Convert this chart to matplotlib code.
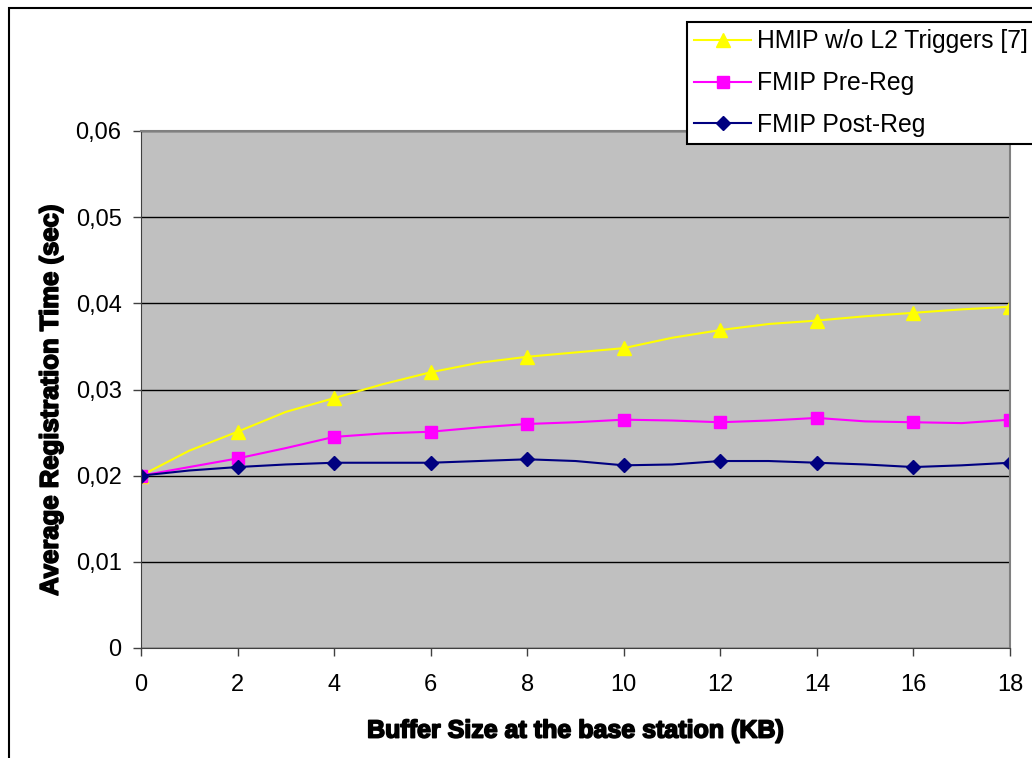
import matplotlib.pyplot as plt
import matplotlib.patheffects as pe
from matplotlib.patches import Rectangle
from matplotlib.ticker import FuncFormatter

plt.rcParams["font.family"] = ["Liberation Sans", "DejaVu Sans"]

buffer_kb = list(range(0, 19))
hmip = [0.0200, 0.0229, 0.0251, 0.0274, 0.0290, 0.0306, 0.0320, 0.0331, 0.0338,
        0.0343, 0.0348, 0.0360, 0.0369, 0.0376, 0.0380, 0.0385, 0.0389, 0.0393, 0.0396]
fmip_pre = [0.0200, 0.0210, 0.0220, 0.0232, 0.0245, 0.0249, 0.0251, 0.0256, 0.0260,
            0.0262, 0.0265, 0.0264, 0.0262, 0.0264, 0.0267, 0.0263, 0.0262, 0.0261, 0.0265]
fmip_post = [0.0200, 0.0206, 0.0210, 0.0213, 0.0215, 0.0215, 0.0215, 0.0217, 0.0219,
             0.0217, 0.0212, 0.0213, 0.0217, 0.0217, 0.0215, 0.0213, 0.0210, 0.0212, 0.0215]

fig = plt.figure(figsize=(10.32, 7.58), dpi=100)
ax = fig.add_axes([141 / 1032, 110 / 758, 869 / 1032, 517 / 758])
ax.set_facecolor("#c0c0c0")

# markers only on the even buffer sizes, like the original
ax.plot(buffer_kb, hmip, color="#ffff00", lw=1.5, marker="^", ms=10, markevery=2,
        label="HMIP w/o L2 Triggers [7]")
ax.plot(buffer_kb, fmip_pre, color="#ff00ff", lw=1.5, marker="s", ms=8, markevery=2,
        label="FMIP Pre-Reg")
ax.plot(buffer_kb, fmip_post, color="#000080", lw=1.5, marker="D", ms=7, markevery=2,
        label="FMIP Post-Reg")

ax.set_xlim(0, 18)
ax.set_ylim(0, 0.06)
ax.set_xticks(range(0, 19, 2))
ax.set_yticks([0, 0.01, 0.02, 0.03, 0.04, 0.05, 0.06])
ax.yaxis.set_major_formatter(FuncFormatter(lambda v, p: "0" if v == 0 else f"{v:.2f}".replace(".", ",")))
ax.grid(axis="y", color="black", lw=1)
ax.set_axisbelow(True)
ax.tick_params(axis="both", labelsize=17, length=6, width=1, color="#404040", direction="out")
ax.tick_params(axis="x", pad=13)
ax.tick_params(axis="y", pad=8)
for side in ["left", "bottom"]:
    ax.spines[side].set_color("#404040")
for side in ["top", "right"]:
    ax.spines[side].set_color("#808080")
    ax.spines[side].set_linewidth(1.5)

bold = [pe.withStroke(linewidth=1.2, foreground="black")]
ax.set_xlabel("Buffer Size at the base station (KB)", fontsize=18, fontweight="bold",
              labelpad=16, path_effects=bold)
ax.set_ylabel("Average Registration Time (sec)", fontsize=18.5, fontweight="bold",
              path_effects=bold)
ax.yaxis.set_label_coords(-0.09, 0.48)

leg = fig.legend(loc="upper left", bbox_to_anchor=(687 / 1032, 1 - 22 / 758), fontsize=17.8,
                 frameon=True, fancybox=False, edgecolor="black", framealpha=1,
                 borderaxespad=0, handlelength=2.3, handletextpad=0.25, borderpad=0.3,
                 labelspacing=0.72)
leg.get_frame().set_linewidth(1.5)

# outer chart border, right and bottom fall outside the picture
fig.patches.append(Rectangle((9 / 1032, -0.1), 1.2, 1.1 - 8 / 758, transform=fig.transFigure,
                             fill=False, edgecolor="black", lw=1.5, clip_on=False))

fig.savefig("out.png", dpi=100)
